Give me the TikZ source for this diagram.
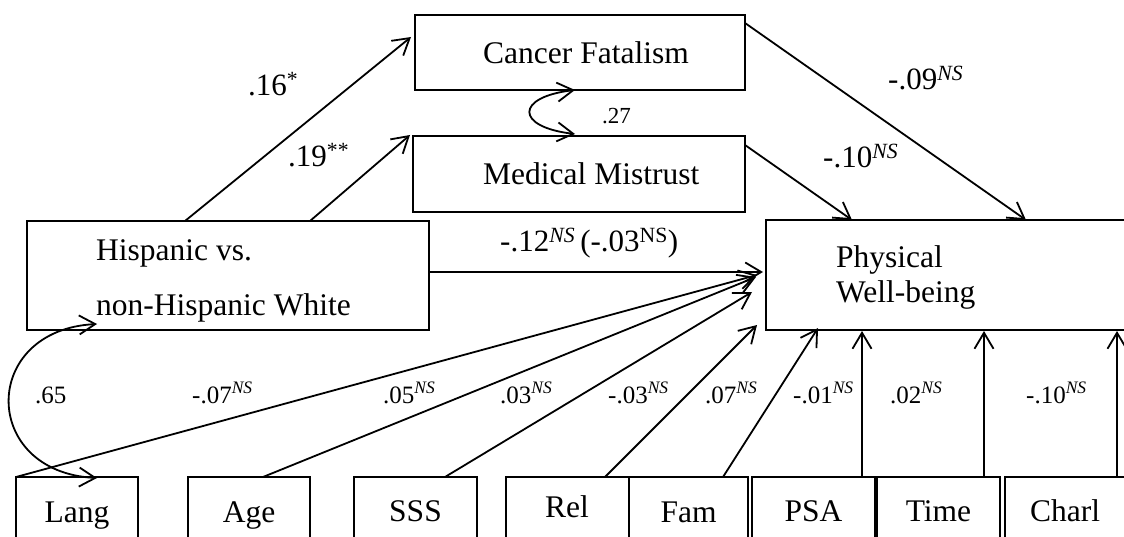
\documentclass[tikz,border=0pt]{standalone}
\usepackage{fontspec}
\setmainfont{Liberation Serif}
\usetikzlibrary{arrows.meta}
\newcommand\nsup{\textsuperscript{\textit{NS}}}
\begin{document}
\begin{tikzpicture}[x=1pt,y=-1pt,
  box/.style={draw, line width=1.8pt, rectangle, inner sep=0pt, outer sep=0pt},
  tip/.tip={Straight Barb[length=16pt,width=19pt]},
  path/.style={line width=1.8pt, -tip},
  corr/.style={line width=1.8pt, tip-tip},
  txt/.style={anchor=base west, inner sep=0pt, font=\fontsize{31.5}{36}\selectfont},
  coef/.style={anchor=base west, inner sep=0pt, font=\fontsize{31}{36}\selectfont},
  small/.style={anchor=base west, inner sep=0pt, font=\fontsize{25}{30}\selectfont},
  tiny/.style={anchor=base west, inner sep=0pt, font=\fontsize{23}{28}\selectfont},
]
\clip (0,0) rectangle (1124,537);
\fill[white] (0,0) rectangle (1124,537);

% boxes
\node[box, minimum width=330, minimum height=75] (cf) at (580,52.5) {};
\node[box, minimum width=332, minimum height=76] (mm) at (579,174) {};
\node[box, minimum width=402, minimum height=109] (hisp) at (228,275.5) {};
\node[box, minimum width=374, minimum height=110] (pwb) at (953,275) {};

\node[box, minimum width=122, minimum height=83] (lang)  at (77,518.5) {};
\node[box, minimum width=122, minimum height=83] (age)   at (249,518.5) {};
\node[box, minimum width=123, minimum height=83] (sss)   at (415.5,518.5) {};
\node[box, minimum width=123, minimum height=83] (rel)   at (567.5,518.5) {};
\node[box, minimum width=119, minimum height=83] (fam)   at (688.5,518.5) {};
\node[box, minimum width=123, minimum height=83] (psa)   at (813.5,518.5) {};
\node[box, minimum width=123, minimum height=83] (time)  at (938.5,518.5) {};
\node[box, minimum width=130, minimum height=83] (charl) at (1070,518.5) {};

% box texts
\node[txt] (cft) at (483,64) {Cancer Fatalism};
\node[txt] (mmt) at (483,185) {Medical Mistrust};
\node[txt] (hisp1) at (96,261) {Hispanic vs.};
\node[txt] (hisp2) at (96,315) {non-Hispanic White};
\node[txt] (pwb1) at (836,268) {Physical};
\node[txt] (pwb2) at (836,302) {Well-being};
\node[txt, anchor=base] (langt)  at (77,522) {Lang};
\node[txt, anchor=base] (aget)   at (249,522) {Age};
\node[txt, anchor=base] (ssst)   at (415.5,521) {SSS};
\node[txt, anchor=base] (relt)   at (567,517) {Rel};
\node[txt, anchor=base] (famt)   at (688.5,522) {Fam};
\node[txt, anchor=base] (psat)   at (813.5,521) {PSA};
\node[txt, anchor=base] (timet)  at (938.5,521) {Time};
\node[txt, anchor=base] (charlt) at (1065,521) {Charl};

% paths to the mediators
\draw[path] ([shift={(158,0)}]hisp.north west) -- ([shift={(-4,22)}]cf.north west);
\draw[path] ([shift={(283,0)}]hisp.north west) -- ([shift={(-3,-1)}]mm.north west);
% paths to the outcome
\draw[path] ([shift={(0,8)}]cf.north east) -- ([shift={(260,0)}]pwb.north west);
\draw[path] ([shift={(0,9)}]mm.north east) -- ([shift={(86,0)}]pwb.north west);
\draw[path] ([shift={(0,51)}]hisp.north east) -- ([shift={(-3,52)}]pwb.north west);
% covariates
\draw[path] (lang.north west) -- ([shift={(-9,55)}]pwb.north west);
\draw[path] ([shift={(75,0)}]age.north west) -- ([shift={(-10,57)}]pwb.north west);
\draw[path] ([shift={(91,0)}]sss.north west) -- ([shift={(-14,72)}]pwb.north west);
\draw[path] ([shift={(99,0)}]rel.north west) -- ([shift={(-9,105)}]pwb.north west);
\draw[path] ([shift={(94,0)}]fam.north west) -- ([shift={(52,-2)}]pwb.south west);
\draw[path] ([shift={(110,0)}]psa.north west) -- ([shift={(96,1)}]pwb.south west);
\draw[path] ([shift={(107,0)}]time.north west) -- ([shift={(218,1)}]pwb.south west);
\draw[path] ([shift={(112,0)}]charl.north west) -- ([shift={(351,1)}]pwb.south west);

% correlations
\draw[corr] ([shift={(160,0)}]cf.south west) .. controls (515,97) and (515,127) .. ([shift={(162,-2)}]mm.north west);
\draw[corr] ([shift={(70,-6)}]hisp.south west) .. controls (-20,330) and (-20,472) .. ([shift={(81,1)}]lang.north west);

% coefficients
\node[coef] (c1) at (248,96) {.16\textsuperscript{*}};
\node[coef] (c2) at (288,167) {.19\textsuperscript{**}};
\node[tiny] (c3) at (602,124) {.27};
\node[coef] (c4) at (888,90) {-.09\nsup};
\node[coef] (c5) at (823,168) {-.10\nsup};
\node[coef] (c6) at (500,252) {-.12\nsup\,(-.03\textsuperscript{NS})};
\node[small] (c7) at (35,403) {.65};
\node[small] (c8) at (192,403) {-.07\nsup};
\node[small] (c9) at (383,403) {.05\nsup};
\node[small] (c10) at (500,403) {.03\nsup};
\node[small] (c11) at (608,403) {-.03\nsup};
\node[small] (c12) at (705,403) {.07\nsup};
\node[small] (c13) at (793,403) {-.01\nsup};
\node[small] (c14) at (890,403) {.02\nsup};
\node[small] (c15) at (1026,403) {-.10\nsup};
\end{tikzpicture}
\end{document}
